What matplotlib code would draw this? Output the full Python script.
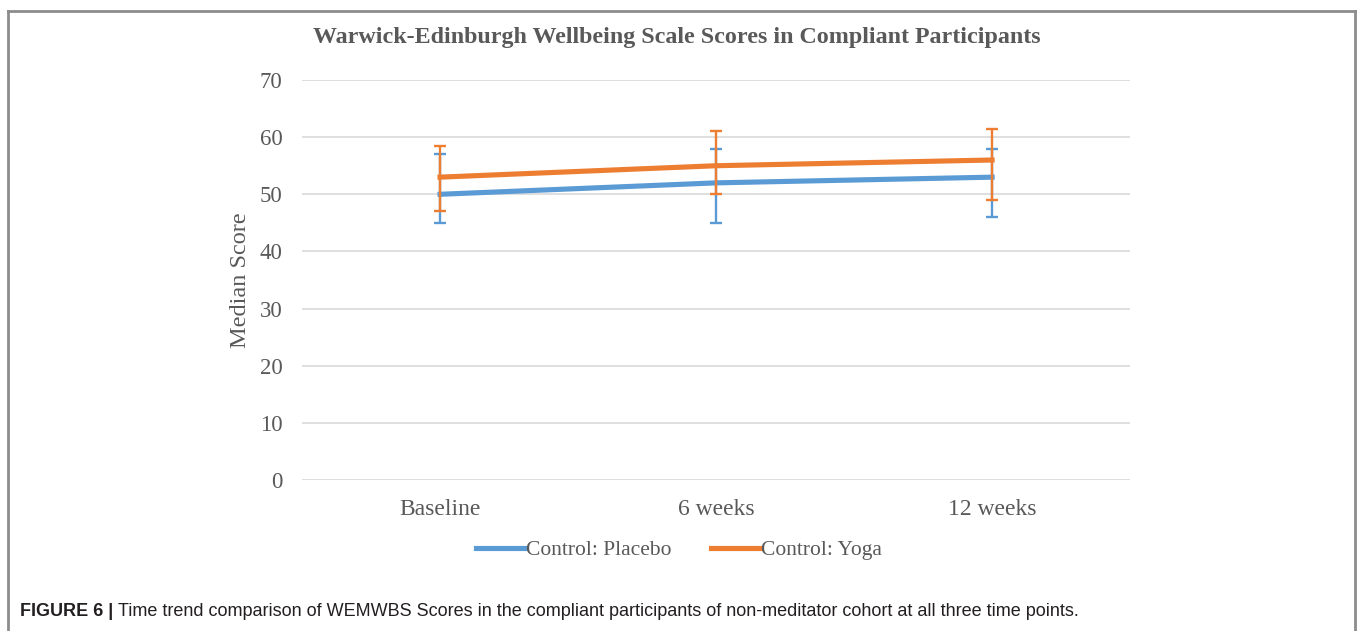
import numpy as np
import matplotlib
matplotlib.use("Agg")
import matplotlib.pyplot as plt
from matplotlib.lines import Line2D

# data
time_points = ["Baseline", "6 weeks", "12 weeks"]
placebo_median = [50, 52, 53]
placebo_low = [45, 45, 46]
placebo_high = [57, 58, 58]
yoga_median = [53, 55, 56]
yoga_low = [47, 50, 49]
yoga_high = [58.5, 61, 61.5]

blue = "#5B9BD5"
orange = "#ED7D31"
grey = "#595959"
serif = ["Liberation Serif", "DejaVu Serif"]

fig = plt.figure(figsize=(13.58, 6.31), dpi=100)
ax = fig.add_axes([0.2224, 0.2393, 0.6098, 0.6339])

x = np.arange(len(time_points))
p_err = [np.array(placebo_median) - np.array(placebo_low),
         np.array(placebo_high) - np.array(placebo_median)]
y_err = [np.array(yoga_median) - np.array(yoga_low),
         np.array(yoga_high) - np.array(yoga_median)]

ax.errorbar(x, placebo_median, yerr=p_err, color=blue, lw=3.7, elinewidth=1.7,
            capsize=4, capthick=1.7, label="Control: Placebo", zorder=3)
ax.errorbar(x, yoga_median, yerr=y_err, color=orange, lw=3.7, elinewidth=1.7,
            capsize=4, capthick=1.7, label="Control: Yoga", zorder=4)

ax.set_xlim(-0.5, 2.5)
ax.set_ylim(0, 70)
ax.set_yticks(range(0, 71, 10))
ax.set_xticks(x)
ax.set_xticklabels(time_points)
ax.grid(axis="y", color="#D9D9D9", lw=1.2)
ax.set_axisbelow(True)
for s in ax.spines.values():
    s.set_visible(False)
ax.tick_params(length=0, labelcolor=grey)
ax.tick_params(axis="y", labelsize=16.5, pad=14)
ax.tick_params(axis="x", labelsize=17, pad=14)
for lbl in ax.get_xticklabels() + ax.get_yticklabels():
    lbl.set_family(serif)
ax.set_ylabel("Median Score", fontsize=17.5, color=grey, family=serif)
ax.yaxis.set_label_coords(-0.0616, 0.5)

fig.text(0.4985, 1 - 38 / 631, "Warwick-Edinburgh Wellbeing Scale Scores in Compliant Participants",
         ha="center", va="center", fontsize=17.3, fontweight="bold", color=grey, family=serif)

handles = [Line2D([], [], color=blue, lw=3.7), Line2D([], [], color=orange, lw=3.7)]
leg = fig.legend(handles, ["Control: Placebo", "Control: Yoga"], loc="center",
                 bbox_to_anchor=(0.5, 1 - 550 / 631), ncol=2, frameon=False,
                 prop={"family": serif, "size": 15.5}, handlelength=2.3,
                 handletextpad=0.05, columnspacing=1.8)
for t in leg.get_texts():
    t.set_color(grey)

# outer frame
frame_kw = dict(color="#8C8C8C", lw=2, transform=fig.transFigure, clip_on=False)
fig.add_artist(Line2D([8 / 1358, 1355 / 1358], [1 - 11 / 631, 1 - 11 / 631], **frame_kw))
fig.add_artist(Line2D([8 / 1358, 8 / 1358], [0, 1 - 11 / 631], **frame_kw))
fig.add_artist(Line2D([1355 / 1358, 1355 / 1358], [0, 1 - 11 / 631], **frame_kw))

# caption
cap_y = 1 - 612 / 631
t1 = fig.text(20 / 1358, cap_y, "FIGURE 6 | ", fontsize=13, fontweight="bold",
              color="#231F20", family="Liberation Sans", va="center")
fig.canvas.draw()
bb = t1.get_window_extent()
fig.text(bb.x1 / fig.bbox.width, cap_y,
         "Time trend comparison of WEMWBS Scores in the compliant participants of "
         "non-meditator cohort at all three time points.",
         fontsize=13, color="#231F20", family="Liberation Sans", va="center")

fig.savefig("out.png", dpi=100)
